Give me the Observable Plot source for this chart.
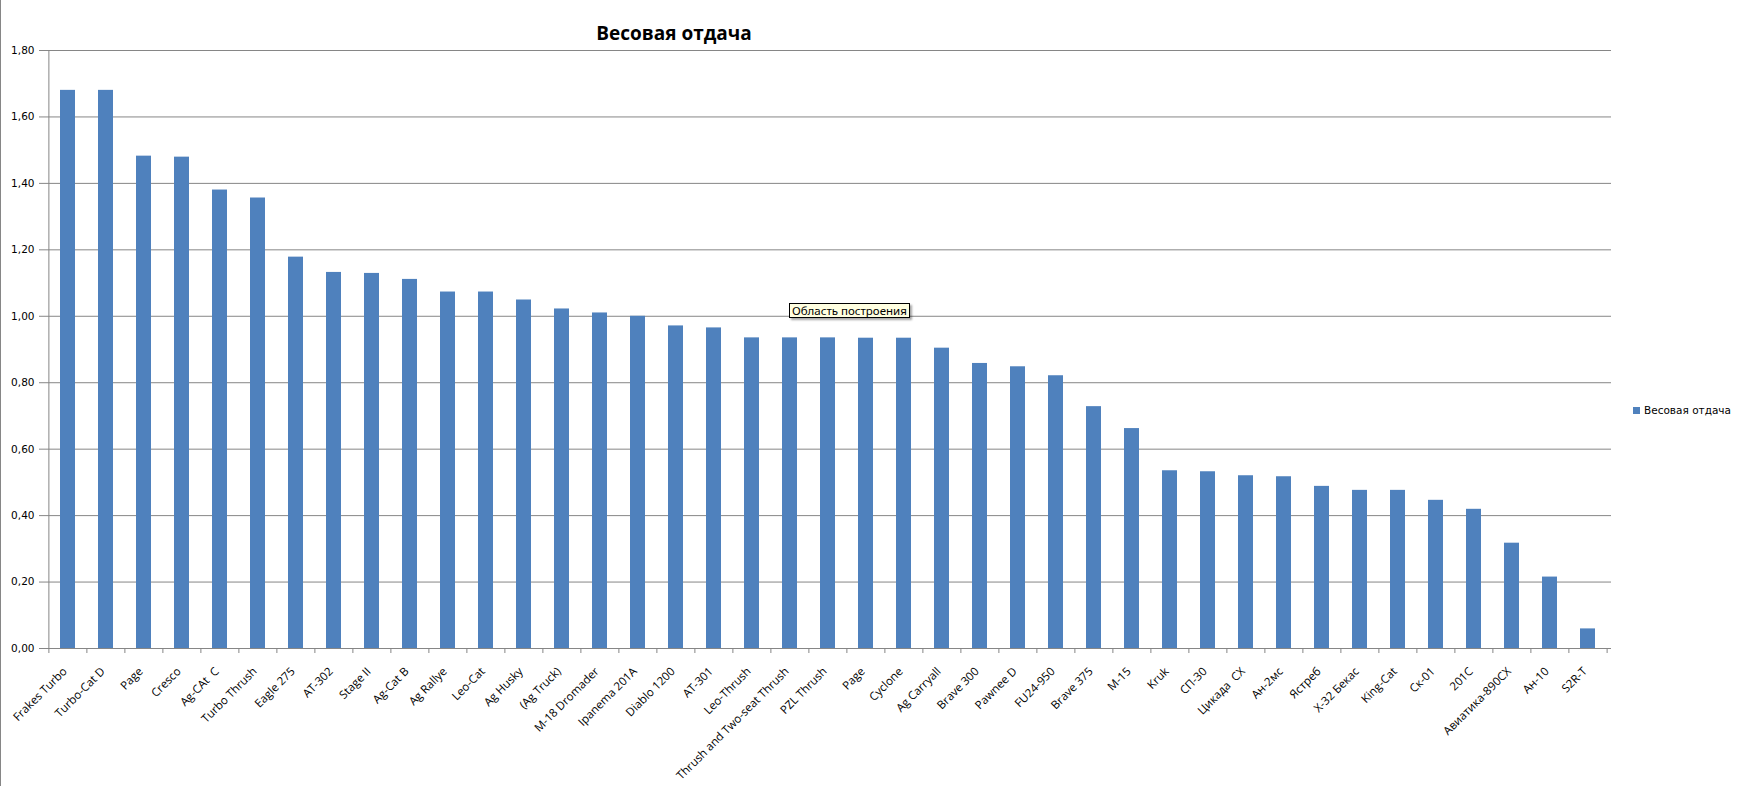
<!DOCTYPE html>
<html>
<head>
<meta charset="utf-8">
<script src="https://cdn.jsdelivr.net/npm/d3@7"></script>
<script src="https://cdn.jsdelivr.net/npm/@observablehq/plot@0.6"></script>
<style>
  html, body { margin: 0; padding: 0; background: #fff; }
  #wrap { position: relative; width: 1741px; height: 786px; overflow: hidden; }
  #title { position: absolute; left: 0; width: 1348px; top: 21px; text-align: center;
           font-family: "Open Sans", sans-serif; font-weight: 700; font-size: 19px; line-height: 24px; color: #000; }
  #legend { position: absolute; left: 1633px; top: 403px; font-family: "DejaVu Sans", sans-serif; font-size: 10.5px;
            line-height: 14px; color: #000; white-space: nowrap; }
  #legend .sw { display: inline-block; width: 7px; height: 7px; background: #4F81BD; margin-right: 4px; vertical-align: 0px; }
  #tip { position: absolute; left: 789px; top: 303px; padding: 0 2px; border: 1px solid #000; background: #FFFFE1;
         font-family: "Noto Sans", sans-serif; font-size: 11.5px; line-height: 13px; color: #000;
         box-shadow: 2px 2px 2px rgba(0,0,0,0.35); white-space: nowrap; }
  #leftborder { position: absolute; left: 0; top: 0; width: 1px; height: 786px; background: #868686; }
</style>
</head>
<body>
<div id="wrap">
  <div id="chart"></div>
  <div id="leftborder"></div>
  <div id="title">Весовая отдача</div>
  <div id="legend"><span class="sw"></span>Весовая отдача</div>
  <div id="tip">Область построения</div>
</div>
<script>
const names = ["Frakes Turbo","Turbo-Cat D","Page","Cresco","Ag-CAt  C","Turbo Thrush","Eagle 275","AT-302","Stage II","Ag-Cat B",
  "Ag Rallye","Leo-Cat","Ag Husky","(Ag Truck)","M-18 Dromader","Ipanema 201A","Diablo 1200","AT-301","Leo-Thrush",
  "Thrush and Two-seat Thrush","PZL Thrush","Page","Cyclone","Ag Carryall","Brave 300","Pawnee D","FU24-950","Brave 375",
  "M-15","Kruk","СП-30","Цикада  СХ","Ан-2мс","Ястреб","Х-32 Бекас","King-Cat","Ск-01","201C","Авиатика-890СХ","Ан-10","S2R-T"];
const values = [1.68,1.68,1.482,1.479,1.38,1.356,1.178,1.132,1.129,1.111,
  1.073,1.073,1.049,1.022,1.010,1.000,0.971,0.965,0.935,
  0.935,0.935,0.934,0.934,0.904,0.858,0.848,0.821,0.728,
  0.662,0.535,0.532,0.520,0.517,0.488,0.476,0.476,0.446,0.419,0.317,0.215,0.059];
const yTicks = [0,0.2,0.4,0.6,0.8,1.0,1.2,1.4,1.6,1.8];

const data = names.map((n, i) => ({i, name: n, v: values[i]}));
const idx = data.map(d => d.i);

const W = 1741, H = 786, ML = 44, MR = 130, MT = 50, MB = 138;
const step = (W - ML - MR) / names.length;
const grid = "#868686";

const chart = Plot.plot({
  width: W, height: H,
  marginLeft: ML, marginRight: MR, marginTop: MT, marginBottom: MB,
  style: {background: "transparent", overflow: "visible"},
  x: {type: "band", domain: idx, paddingInner: 0.6, paddingOuter: 0.3, axis: null, label: null},
  y: {domain: [0, 1.8], axis: null, label: null},
  marks: [
    Plot.gridY(yTicks.slice(1), {stroke: grid, strokeOpacity: 1, strokeWidth: 1}),
    Plot.barY(data, {x: "i", y: "v", fill: "#4F81BD"}),
    Plot.ruleY([0], {stroke: grid}),
    Plot.ruleX([idx[0]], {x: d => d, y1: 0, y2: 1.8, dx: -step / 2, stroke: grid}),
    Plot.axisY(yTicks, {tickSize: 5, tickPadding: 5, stroke: grid, strokeOpacity: 1, fill: "#000", label: null,
      fontFamily: "DejaVu Sans", fontSize: 10.5,
      tickFormat: d => d.toFixed(2).replace(".", ",")}),
    Plot.axisX(idx, {tickSize: 5, tickFormat: () => "", dx: -step / 2, stroke: grid, strokeOpacity: 1, label: null}),
    Plot.axisX([idx[idx.length - 1]], {tickSize: 5, tickFormat: () => "", dx: step / 2, stroke: grid, strokeOpacity: 1, label: null}),
    Plot.axisX(idx, {tickSize: 0, tickPadding: 21, tickRotate: -45, dx: -3, fill: "#000", label: null,
      fontFamily: "Open Sans", fontSize: 11.5,
      tickFormat: i => names[i]})
  ]
});
document.getElementById("chart").appendChild(chart);
</script>
</body>
</html>
